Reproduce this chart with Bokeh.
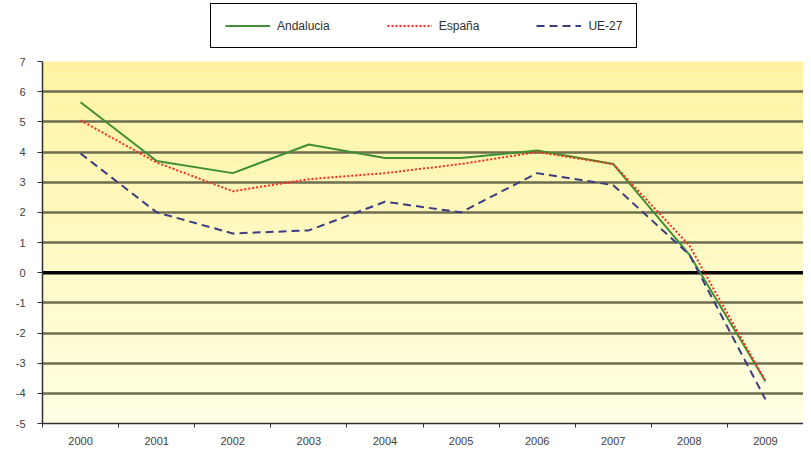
import numpy as np
from bokeh.plotting import figure
from bokeh.layouts import column
from bokeh.models import (Range1d, FixedTicker, Legend, LegendItem, Span)
from bokeh.embed import file_html
from bokeh.resources import INLINE

years = ["2000", "2001", "2002", "2003", "2004", "2005", "2006", "2007", "2008", "2009"]
andalucia = [5.65, 3.7, 3.3, 4.25, 3.8, 3.8, 4.05, 3.6, 0.6, -3.6]
espana = [5.05, 3.65, 2.7, 3.1, 3.3, 3.6, 4.0, 3.6, 0.9, -3.6]
ue27 = [3.95, 2.0, 1.3, 1.4, 2.35, 2.0, 3.3, 2.9, 0.6, -4.2]
y_ticks = list(range(-5, 8))
series_names = ["Andalucia", "España", "UE-27"]

Y_MIN, Y_MAX = -5, 7
N = len(years)
xs = np.arange(N) + 0.5
W = 803

COLORS = ["#3f8f35", "#ff2a1a", "#3c3c80"]
DASHES = ["solid", "2 2", "8 5"]

p = figure(width=W, height=398, output_backend="svg", toolbar_location=None,
           x_range=Range1d(0, N), y_range=Range1d(Y_MIN, Y_MAX),
           min_border_left=42, min_border_right=0, min_border_top=8,
           min_border_bottom=28)
p.background_fill_color = "white"
p.border_fill_color = "white"
p.outline_line_color = None

# vertical gradient background
nb = 60
edges = np.linspace(Y_MIN, Y_MAX, nb + 1)
top_c = np.array([255, 243, 160])
bot_c = np.array([255, 255, 228])
cols = []
for i in range(nb):
    t = (edges[i] - Y_MIN) / (Y_MAX - Y_MIN)
    c = bot_c + (top_c - bot_c) * t
    cols.append("#%02x%02x%02x" % tuple(int(round(v)) for v in c))
p.quad(left=0, right=N, bottom=edges[:-1], top=edges[1:] + 0.01,
       fill_color=cols, line_color=None, level="image")

# grid
p.xgrid.grid_line_color = None
p.ygrid.ticker = FixedTicker(ticks=y_ticks)
p.ygrid.grid_line_color = "#6e6e50"
p.ygrid.grid_line_width = 2.6
p.ygrid.level = "underlay"

zero = Span(location=0, dimension="width", line_color="black", line_width=3.5, level="underlay")
p.add_layout(zero)

# axes
p.yaxis.ticker = FixedTicker(ticks=y_ticks)
p.yaxis.major_label_overrides = {t: str(t) for t in y_ticks}
p.xaxis.ticker = FixedTicker(ticks=list(xs), minor_ticks=list(range(0, N + 1)))
p.xaxis.major_label_overrides = {float(x): y for x, y in zip(xs, years)}
p.xaxis.major_tick_out = 0
p.xaxis.major_tick_in = 0
p.xaxis.minor_tick_out = 4
p.xaxis.minor_tick_in = 0
p.xaxis.minor_tick_line_color = "#303030"
p.yaxis.minor_tick_line_color = None
p.yaxis.major_tick_out = 5
p.yaxis.major_tick_in = 0
for ax in (p.xaxis, p.yaxis):
    ax.axis_line_color = "#303030"
    ax.axis_line_width = 1.5
    ax.major_tick_line_color = "#303030"
    ax.major_label_text_font = "Liberation Sans"
    ax.major_label_text_font_size = "11px"
    ax.major_label_text_color = "#404040"
p.xaxis.major_label_standoff = 9
p.yaxis.major_label_standoff = 12

for vals, c, d in zip([andalucia, espana, ue27], COLORS, DASHES):
    p.line(xs, vals, line_color=c, line_width=2, line_dash=d)

# legend strip above the chart (proxy lines lie outside its visible range)
lf = figure(width=W, height=53, output_backend="svg", toolbar_location=None,
            x_range=Range1d(0, 1), y_range=Range1d(0, 1),
            min_border_left=0, min_border_right=0, min_border_top=0,
            min_border_bottom=0)
lf.axis.visible = False
lf.grid.visible = False
lf.outline_line_color = None
lf.background_fill_color = "white"
lf.border_fill_color = "white"
items = []
for name, c, d in zip(series_names, COLORS, DASHES):
    r = lf.line(x=[-3, -2], y=[-3, -3], line_color=c, line_width=2, line_dash=d)
    items.append(LegendItem(label=name, renderers=[r]))

legend = Legend(items=items, orientation="horizontal", location=(168, 5),
                border_line_color="black", border_line_width=1.5, border_line_alpha=1,
                background_fill_color="white", background_fill_alpha=1,
                padding=14, spacing=57, glyph_width=45, glyph_height=15,
                label_standoff=7, label_text_font="Liberation Sans",
                label_text_font_size="12px", label_text_color="#303030",
                label_height=15, margin=0)
lf.add_layout(legend, "center")

layout = column(lf, p, spacing=0)
open("out.html", "w").write(file_html(layout, INLINE))
